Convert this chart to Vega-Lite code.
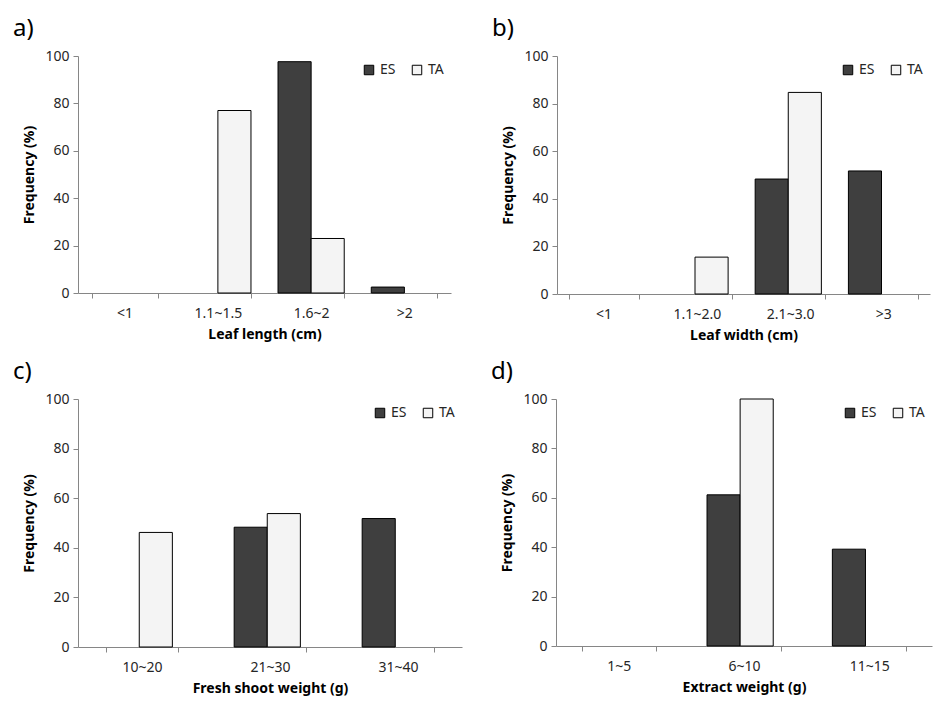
{
  "$schema": "https://vega.github.io/schema/vega-lite/v6.json",
  "background": "white",
  "padding": {"left": 12, "top": 17, "right": 5, "bottom": 5},
  "config": {
    "font": "Noto Sans",
    "view": {"stroke": null},
    "bar": {"stroke": "#000000", "strokeWidth": 1},
    "axis": {
      "domainColor": "#868686",
      "tickColor": "#868686",
      "tickSize": 5,
      "grid": false,
      "labelFont": "Noto Sans",
      "labelFontSize": 14,
      "labelColor": "#262626",
      "titleFont": "Noto Sans",
      "titleFontSize": 14,
      "titleFontWeight": "bold",
      "titleColor": "#000000"
    },
    "axisY": {"labelPadding": 4, "titlePadding": 8},
    "axisX": {"labelPadding": 8, "titlePadding": 7, "labelAngle": 0, "tickBand": "extent"},
    "legend": {
      "orient": "top-right",
      "direction": "horizontal",
      "title": null,
      "symbolType": "square",
      "symbolSize": 90,
      "symbolStrokeColor": "#000000",
      "symbolStrokeWidth": 1,
      "labelFontSize": 14,
      "labelColor": "#262626",
      "labelFont": "Noto Sans",
      "offset": 7,
      "columnPadding": 14
    },
    "title": {
      "anchor": "start",
      "frame": "bounds",
      "fontSize": 24,
      "fontWeight": "normal",
      "font": "Noto Sans",
      "color": "#000000",
      "dx": -10,
      "offset": 8
    }
  },
  "datasets": {
    "a": [
      {"cat": "1.1~1.5", "group": "TA", "freq": 77},
      {"cat": "1.6~2", "group": "ES", "freq": 97.6},
      {"cat": "1.6~2", "group": "TA", "freq": 23},
      {"cat": ">2", "group": "ES", "freq": 2.5}
    ],
    "b": [
      {"cat": "1.1~2.0", "group": "TA", "freq": 15.5},
      {"cat": "2.1~3.0", "group": "ES", "freq": 48.3},
      {"cat": "2.1~3.0", "group": "TA", "freq": 84.7},
      {"cat": ">3", "group": "ES", "freq": 51.7}
    ],
    "c": [
      {"cat": "10~20", "group": "TA", "freq": 46.2},
      {"cat": "21~30", "group": "ES", "freq": 48.3},
      {"cat": "21~30", "group": "TA", "freq": 53.8},
      {"cat": "31~40", "group": "ES", "freq": 51.8}
    ],
    "d": [
      {"cat": "6~10", "group": "ES", "freq": 61.2},
      {"cat": "6~10", "group": "TA", "freq": 100},
      {"cat": "11~15", "group": "ES", "freq": 39.2}
    ]
  },
  "resolve": {"scale": {"fill": "independent", "x": "independent"}, "legend": {"fill": "independent"}},
  "spacing": 18,
  "vconcat": [
    {
      "hconcat": [
        {
          "title": "a)",
          "width": 373,
          "height": 237,
          "data": {"name": "a"},
          "mark": "bar",
          "encoding": {
            "x": {"field": "cat", "type": "nominal", "scale": {"domain": ["<1", "1.1~1.5", "1.6~2", ">2"], "paddingInner": 0.29, "paddingOuter": 0.145}, "axis": {"title": "Leaf length (cm)"}},
            "xOffset": {"field": "group", "type": "nominal", "scale": {"domain": ["ES", "TA"]}},
            "y": {"field": "freq", "type": "quantitative", "scale": {"domain": [0, 100]}, "axis": {"title": "Frequency (%)", "values": [0, 20, 40, 60, 80, 100]}},
            "fill": {"field": "group", "type": "nominal", "scale": {"domain": ["ES", "TA"], "range": ["#3f3f3f", "#f4f4f4"]}}
          }
        },
        {
          "title": "b)",
          "width": 373,
          "height": 238,
          "data": {"name": "b"},
          "mark": "bar",
          "encoding": {
            "x": {"field": "cat", "type": "nominal", "scale": {"domain": ["<1", "1.1~2.0", "2.1~3.0", ">3"], "paddingInner": 0.25, "paddingOuter": 0.125}, "axis": {"title": "Leaf width (cm)"}},
            "xOffset": {"field": "group", "type": "nominal", "scale": {"domain": ["ES", "TA"]}},
            "y": {"field": "freq", "type": "quantitative", "scale": {"domain": [0, 100]}, "axis": {"title": "Frequency (%)", "values": [0, 20, 40, 60, 80, 100]}},
            "fill": {"field": "group", "type": "nominal", "scale": {"domain": ["ES", "TA"], "range": ["#3f3f3f", "#f4f4f4"]}}
          }
        }
      ],
      "spacing": 40,
      "resolve": {"scale": {"fill": "independent", "x": "independent"}, "legend": {"fill": "independent"}}
    },
    {
      "hconcat": [
        {
          "title": "c)",
          "width": 384,
          "height": 248,
          "data": {"name": "c"},
          "mark": "bar",
          "encoding": {
            "x": {"field": "cat", "type": "nominal", "scale": {"domain": ["10~20", "21~30", "31~40"], "paddingInner": 0.44, "paddingOuter": 0.22}, "axis": {"title": "Fresh shoot weight (g)"}},
            "xOffset": {"field": "group", "type": "nominal", "scale": {"domain": ["ES", "TA"]}},
            "y": {"field": "freq", "type": "quantitative", "scale": {"domain": [0, 100]}, "axis": {"title": "Frequency (%)", "values": [0, 20, 40, 60, 80, 100]}},
            "fill": {"field": "group", "type": "nominal", "scale": {"domain": ["ES", "TA"], "range": ["#3f3f3f", "#f4f4f4"]}}
          }
        },
        {
          "title": "d)",
          "width": 376,
          "height": 247,
          "data": {"name": "d"},
          "mark": "bar",
          "encoding": {
            "x": {"field": "cat", "type": "nominal", "scale": {"domain": ["1~5", "6~10", "11~15"], "paddingInner": 0.41, "paddingOuter": 0.205}, "axis": {"title": "Extract weight (g)"}},
            "xOffset": {"field": "group", "type": "nominal", "scale": {"domain": ["ES", "TA"]}},
            "y": {"field": "freq", "type": "quantitative", "scale": {"domain": [0, 100]}, "axis": {"title": "Frequency (%)", "values": [0, 20, 40, 60, 80, 100]}},
            "fill": {"field": "group", "type": "nominal", "scale": {"domain": ["ES", "TA"], "range": ["#3f3f3f", "#f4f4f4"]}}
          }
        }
      ],
      "spacing": 28,
      "resolve": {"scale": {"fill": "independent", "x": "independent"}, "legend": {"fill": "independent"}}
    }
  ]
}
